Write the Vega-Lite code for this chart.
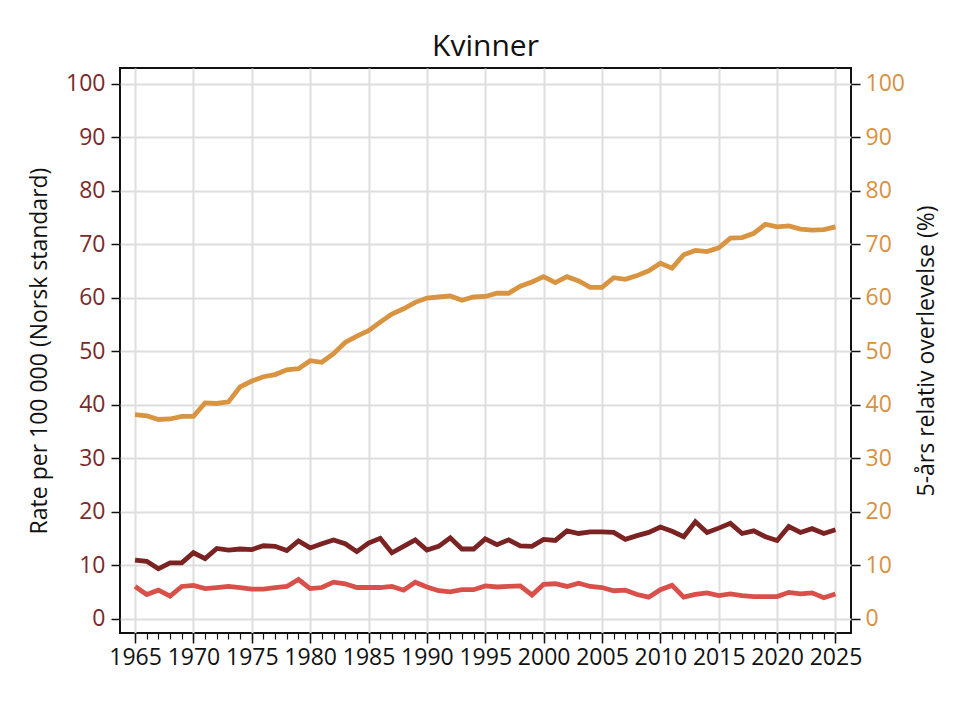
{
  "$schema": "https://vega.github.io/schema/vega-lite/v6.json",
  "width": 731,
  "height": 565,
  "autosize": "none",
  "padding": {"left": 120, "top": 68, "right": 119, "bottom": 73},
  "background": "white",
  "title": {
    "text": "Kvinner",
    "font": "Open Sans",
    "fontSize": 30,
    "fontWeight": "normal",
    "color": "#111111",
    "anchor": "middle",
    "offset": 6
  },
  "config": {
    "view": {"stroke": "#111111", "strokeWidth": 2},
    "axis": {"labelFont": "Open Sans", "titleFont": "Open Sans"}
  },
  "datasets": {
    "rates": [
      {"year": 1965, "serie": "Insidens", "verdi": 10.9}, {"year": 1966, "serie": "Insidens", "verdi": 10.7},
      {"year": 1967, "serie": "Insidens", "verdi": 9.3}, {"year": 1968, "serie": "Insidens", "verdi": 10.4},
      {"year": 1969, "serie": "Insidens", "verdi": 10.4}, {"year": 1970, "serie": "Insidens", "verdi": 12.3},
      {"year": 1971, "serie": "Insidens", "verdi": 11.2}, {"year": 1972, "serie": "Insidens", "verdi": 13.1},
      {"year": 1973, "serie": "Insidens", "verdi": 12.8}, {"year": 1974, "serie": "Insidens", "verdi": 13.0},
      {"year": 1975, "serie": "Insidens", "verdi": 12.9}, {"year": 1976, "serie": "Insidens", "verdi": 13.6},
      {"year": 1977, "serie": "Insidens", "verdi": 13.5}, {"year": 1978, "serie": "Insidens", "verdi": 12.7},
      {"year": 1979, "serie": "Insidens", "verdi": 14.5}, {"year": 1980, "serie": "Insidens", "verdi": 13.2},
      {"year": 1981, "serie": "Insidens", "verdi": 14.0}, {"year": 1982, "serie": "Insidens", "verdi": 14.7},
      {"year": 1983, "serie": "Insidens", "verdi": 14.0}, {"year": 1984, "serie": "Insidens", "verdi": 12.5},
      {"year": 1985, "serie": "Insidens", "verdi": 14.1}, {"year": 1986, "serie": "Insidens", "verdi": 15.0},
      {"year": 1987, "serie": "Insidens", "verdi": 12.3}, {"year": 1988, "serie": "Insidens", "verdi": 13.5},
      {"year": 1989, "serie": "Insidens", "verdi": 14.7}, {"year": 1990, "serie": "Insidens", "verdi": 12.8},
      {"year": 1991, "serie": "Insidens", "verdi": 13.5}, {"year": 1992, "serie": "Insidens", "verdi": 15.1},
      {"year": 1993, "serie": "Insidens", "verdi": 13.0}, {"year": 1994, "serie": "Insidens", "verdi": 13.0},
      {"year": 1995, "serie": "Insidens", "verdi": 14.9}, {"year": 1996, "serie": "Insidens", "verdi": 13.8},
      {"year": 1997, "serie": "Insidens", "verdi": 14.7}, {"year": 1998, "serie": "Insidens", "verdi": 13.6},
      {"year": 1999, "serie": "Insidens", "verdi": 13.5}, {"year": 2000, "serie": "Insidens", "verdi": 14.8},
      {"year": 2001, "serie": "Insidens", "verdi": 14.6}, {"year": 2002, "serie": "Insidens", "verdi": 16.4},
      {"year": 2003, "serie": "Insidens", "verdi": 15.9}, {"year": 2004, "serie": "Insidens", "verdi": 16.2},
      {"year": 2005, "serie": "Insidens", "verdi": 16.2}, {"year": 2006, "serie": "Insidens", "verdi": 16.1},
      {"year": 2007, "serie": "Insidens", "verdi": 14.8}, {"year": 2008, "serie": "Insidens", "verdi": 15.5},
      {"year": 2009, "serie": "Insidens", "verdi": 16.1}, {"year": 2010, "serie": "Insidens", "verdi": 17.1},
      {"year": 2011, "serie": "Insidens", "verdi": 16.3}, {"year": 2012, "serie": "Insidens", "verdi": 15.3},
      {"year": 2013, "serie": "Insidens", "verdi": 18.1}, {"year": 2014, "serie": "Insidens", "verdi": 16.1},
      {"year": 2015, "serie": "Insidens", "verdi": 16.9}, {"year": 2016, "serie": "Insidens", "verdi": 17.8},
      {"year": 2017, "serie": "Insidens", "verdi": 15.9}, {"year": 2018, "serie": "Insidens", "verdi": 16.4},
      {"year": 2019, "serie": "Insidens", "verdi": 15.3}, {"year": 2020, "serie": "Insidens", "verdi": 14.6},
      {"year": 2021, "serie": "Insidens", "verdi": 17.2}, {"year": 2022, "serie": "Insidens", "verdi": 16.1},
      {"year": 2023, "serie": "Insidens", "verdi": 16.8}, {"year": 2024, "serie": "Insidens", "verdi": 15.9},
      {"year": 2025, "serie": "Insidens", "verdi": 16.6},
      {"year": 1965, "serie": "Dødelighet", "verdi": 6.0}, {"year": 1966, "serie": "Dødelighet", "verdi": 4.5},
      {"year": 1967, "serie": "Dødelighet", "verdi": 5.3}, {"year": 1968, "serie": "Dødelighet", "verdi": 4.2},
      {"year": 1969, "serie": "Dødelighet", "verdi": 6.0}, {"year": 1970, "serie": "Dødelighet", "verdi": 6.2},
      {"year": 1971, "serie": "Dødelighet", "verdi": 5.6}, {"year": 1972, "serie": "Dødelighet", "verdi": 5.8},
      {"year": 1973, "serie": "Dødelighet", "verdi": 6.0}, {"year": 1974, "serie": "Dødelighet", "verdi": 5.8},
      {"year": 1975, "serie": "Dødelighet", "verdi": 5.5}, {"year": 1976, "serie": "Dødelighet", "verdi": 5.5},
      {"year": 1977, "serie": "Dødelighet", "verdi": 5.8}, {"year": 1978, "serie": "Dødelighet", "verdi": 6.0},
      {"year": 1979, "serie": "Dødelighet", "verdi": 7.3}, {"year": 1980, "serie": "Dødelighet", "verdi": 5.6},
      {"year": 1981, "serie": "Dødelighet", "verdi": 5.8}, {"year": 1982, "serie": "Dødelighet", "verdi": 6.8},
      {"year": 1983, "serie": "Dødelighet", "verdi": 6.5}, {"year": 1984, "serie": "Dødelighet", "verdi": 5.8},
      {"year": 1985, "serie": "Dødelighet", "verdi": 5.8}, {"year": 1986, "serie": "Dødelighet", "verdi": 5.8},
      {"year": 1987, "serie": "Dødelighet", "verdi": 6.0}, {"year": 1988, "serie": "Dødelighet", "verdi": 5.3},
      {"year": 1989, "serie": "Dødelighet", "verdi": 6.8}, {"year": 1990, "serie": "Dødelighet", "verdi": 5.9},
      {"year": 1991, "serie": "Dødelighet", "verdi": 5.2}, {"year": 1992, "serie": "Dødelighet", "verdi": 5.0},
      {"year": 1993, "serie": "Dødelighet", "verdi": 5.4}, {"year": 1994, "serie": "Dødelighet", "verdi": 5.4},
      {"year": 1995, "serie": "Dødelighet", "verdi": 6.1}, {"year": 1996, "serie": "Dødelighet", "verdi": 5.9},
      {"year": 1997, "serie": "Dødelighet", "verdi": 6.0}, {"year": 1998, "serie": "Dødelighet", "verdi": 6.1},
      {"year": 1999, "serie": "Dødelighet", "verdi": 4.4}, {"year": 2000, "serie": "Dødelighet", "verdi": 6.4},
      {"year": 2001, "serie": "Dødelighet", "verdi": 6.5}, {"year": 2002, "serie": "Dødelighet", "verdi": 6.0},
      {"year": 2003, "serie": "Dødelighet", "verdi": 6.6}, {"year": 2004, "serie": "Dødelighet", "verdi": 6.0},
      {"year": 2005, "serie": "Dødelighet", "verdi": 5.8}, {"year": 2006, "serie": "Dødelighet", "verdi": 5.2},
      {"year": 2007, "serie": "Dødelighet", "verdi": 5.3}, {"year": 2008, "serie": "Dødelighet", "verdi": 4.5},
      {"year": 2009, "serie": "Dødelighet", "verdi": 4.0}, {"year": 2010, "serie": "Dødelighet", "verdi": 5.4},
      {"year": 2011, "serie": "Dødelighet", "verdi": 6.2}, {"year": 2012, "serie": "Dødelighet", "verdi": 4.0},
      {"year": 2013, "serie": "Dødelighet", "verdi": 4.5}, {"year": 2014, "serie": "Dødelighet", "verdi": 4.8},
      {"year": 2015, "serie": "Dødelighet", "verdi": 4.3}, {"year": 2016, "serie": "Dødelighet", "verdi": 4.6},
      {"year": 2017, "serie": "Dødelighet", "verdi": 4.3}, {"year": 2018, "serie": "Dødelighet", "verdi": 4.1},
      {"year": 2019, "serie": "Dødelighet", "verdi": 4.1}, {"year": 2020, "serie": "Dødelighet", "verdi": 4.1},
      {"year": 2021, "serie": "Dødelighet", "verdi": 4.9}, {"year": 2022, "serie": "Dødelighet", "verdi": 4.6},
      {"year": 2023, "serie": "Dødelighet", "verdi": 4.8}, {"year": 2024, "serie": "Dødelighet", "verdi": 3.9},
      {"year": 2025, "serie": "Dødelighet", "verdi": 4.6}
    ],
    "survival": [
      {"year": 1965, "verdi": 38.1}, {"year": 1966, "verdi": 37.9}, {"year": 1967, "verdi": 37.2},
      {"year": 1968, "verdi": 37.3}, {"year": 1969, "verdi": 37.8}, {"year": 1970, "verdi": 37.8},
      {"year": 1971, "verdi": 40.3}, {"year": 1972, "verdi": 40.2}, {"year": 1973, "verdi": 40.5},
      {"year": 1974, "verdi": 43.3}, {"year": 1975, "verdi": 44.4}, {"year": 1976, "verdi": 45.2},
      {"year": 1977, "verdi": 45.6}, {"year": 1978, "verdi": 46.5}, {"year": 1979, "verdi": 46.7},
      {"year": 1980, "verdi": 48.2}, {"year": 1981, "verdi": 47.9}, {"year": 1982, "verdi": 49.5},
      {"year": 1983, "verdi": 51.6}, {"year": 1984, "verdi": 52.8}, {"year": 1985, "verdi": 53.8},
      {"year": 1986, "verdi": 55.4}, {"year": 1987, "verdi": 56.9}, {"year": 1988, "verdi": 57.9},
      {"year": 1989, "verdi": 59.1}, {"year": 1990, "verdi": 59.9}, {"year": 1991, "verdi": 60.1},
      {"year": 1992, "verdi": 60.3}, {"year": 1993, "verdi": 59.5}, {"year": 1994, "verdi": 60.1},
      {"year": 1995, "verdi": 60.2}, {"year": 1996, "verdi": 60.8}, {"year": 1997, "verdi": 60.8},
      {"year": 1998, "verdi": 62.1}, {"year": 1999, "verdi": 62.9}, {"year": 2000, "verdi": 63.9},
      {"year": 2001, "verdi": 62.8}, {"year": 2002, "verdi": 63.9}, {"year": 2003, "verdi": 63.1},
      {"year": 2004, "verdi": 61.9}, {"year": 2005, "verdi": 61.9}, {"year": 2006, "verdi": 63.7},
      {"year": 2007, "verdi": 63.4}, {"year": 2008, "verdi": 64.1}, {"year": 2009, "verdi": 65.0},
      {"year": 2010, "verdi": 66.4}, {"year": 2011, "verdi": 65.5}, {"year": 2012, "verdi": 68.0},
      {"year": 2013, "verdi": 68.8}, {"year": 2014, "verdi": 68.6}, {"year": 2015, "verdi": 69.3},
      {"year": 2016, "verdi": 71.1}, {"year": 2017, "verdi": 71.2}, {"year": 2018, "verdi": 72.0},
      {"year": 2019, "verdi": 73.7}, {"year": 2020, "verdi": 73.2}, {"year": 2021, "verdi": 73.4},
      {"year": 2022, "verdi": 72.8}, {"year": 2023, "verdi": 72.6}, {"year": 2024, "verdi": 72.7},
      {"year": 2025, "verdi": 73.2}
    ]
  },
  "layer": [
    {
      "data": {"name": "rates"},
      "mark": {"type": "line", "strokeWidth": 4.8, "strokeJoin": "miter", "clip": true},
      "encoding": {
        "x": {
          "field": "year", "type": "quantitative",
          "scale": {"domain": [1963.71, 2026.33], "nice": false, "zero": false},
          "axis": {
            "orient": "bottom",
            "values": [1965, 1970, 1975, 1980, 1985, 1990, 1995, 2000, 2005, 2010, 2015, 2020, 2025],
            "format": "d", "title": null, "domain": false,
            "tickSize": 10, "tickWidth": 1.5, "tickColor": "#111111",
            "labelFontSize": 23, "labelColor": "#111111", "labelPadding": 3,
            "grid": true, "gridColor": "#DEDEDE", "gridWidth": 2
          }
        },
        "y": {
          "field": "verdi", "type": "quantitative",
          "scale": {"domain": [-2.7, 102.9], "nice": false, "zero": false},
          "axis": {
            "values": [0, 10, 20, 30, 40, 50, 60, 70, 80, 90, 100],
            "title": "Rate per 100 000 (Norsk standard)",
            "titleFontSize": 23, "titleFontWeight": "normal", "titleColor": "#111111", "titlePadding": 14,
            "domain": false, "tickSize": 9, "tickWidth": 1.5, "tickColor": "#111111",
            "labelFontSize": 23, "labelColor": "#7A2A2A", "labelPadding": 6,
            "grid": true, "gridColor": "#DEDEDE", "gridWidth": 2
          }
        },
        "color": {
          "field": "serie", "type": "nominal",
          "scale": {"domain": ["Insidens", "Dødelighet"], "range": ["#7B2222", "#D9504A"]},
          "legend": null
        }
      }
    },
    {
      "data": {"name": "survival"},
      "mark": {"type": "line", "strokeWidth": 4.8, "color": "#D89440", "strokeJoin": "miter", "clip": true},
      "encoding": {
        "x": {
          "field": "year", "type": "quantitative",
          "axis": {
            "orient": "bottom",
            "values": [1965, 1966, 1967, 1968, 1969, 1970, 1971, 1972, 1973, 1974, 1975, 1976, 1977, 1978, 1979, 1980, 1981, 1982, 1983, 1984, 1985, 1986, 1987, 1988, 1989, 1990, 1991, 1992, 1993, 1994, 1995, 1996, 1997, 1998, 1999, 2000, 2001, 2002, 2003, 2004, 2005, 2006, 2007, 2008, 2009, 2010, 2011, 2012, 2013, 2014, 2015, 2016, 2017, 2018, 2019, 2020, 2021, 2022, 2023, 2024, 2025],
            "title": null, "labels": false, "domain": false, "grid": false,
            "tickSize": 6, "tickWidth": 1.2, "tickColor": "#111111"
          }
        },
        "y": {
          "field": "verdi", "type": "quantitative",
          "scale": {"domain": [-2.7, 102.9], "nice": false, "zero": false},
          "axis": {
            "orient": "right",
            "values": [0, 10, 20, 30, 40, 50, 60, 70, 80, 90, 100],
            "title": "5-års relativ overlevelse (%)",
            "titleAngle": 270,
            "titleFontSize": 23, "titleFontWeight": "normal", "titleColor": "#111111", "titlePadding": 34,
            "domain": false, "tickSize": 9, "tickWidth": 1.5, "tickColor": "#111111",
            "labelFontSize": 23, "labelColor": "#D8913F", "labelPadding": 5,
            "grid": false
          }
        }
      }
    }
  ],
  "resolve": {"scale": {"y": "independent"}, "axis": {"x": "independent", "y": "independent"}}
}
